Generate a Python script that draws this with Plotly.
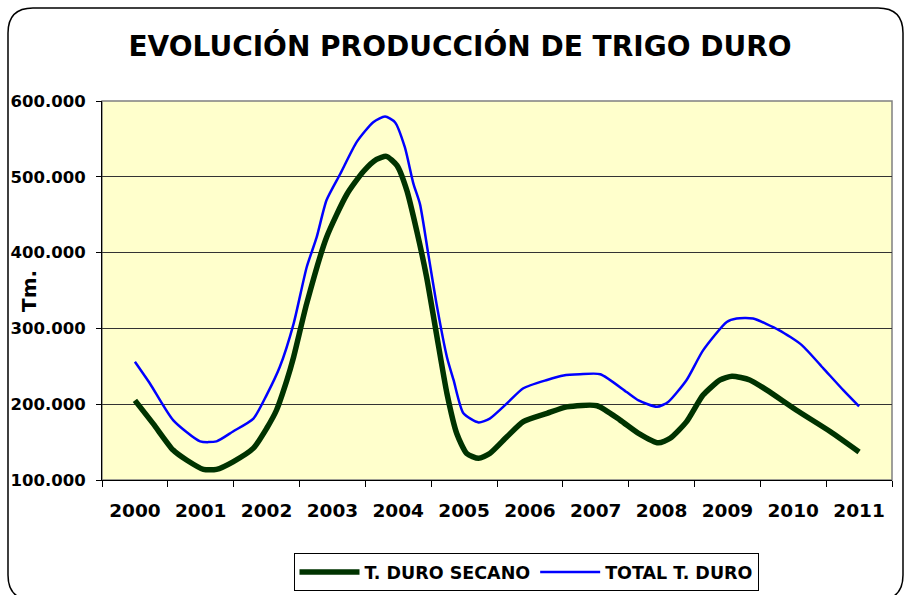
import plotly.graph_objects as go

categories = ["2000", "2001", "2002", "2003", "2004", "2005",
              "2006", "2007", "2008", "2009", "2010", "2011"]
years = [2000, 2001, 2002, 2003, 2004, 2005, 2006, 2007, 2008, 2009, 2010, 2011]

secano_x = [2000.00, 2000.28, 2000.58, 2000.79, 2001.04, 2001.24, 2001.49, 2001.80,
            2002.00, 2002.15, 2002.31, 2002.41, 2002.61, 2002.91, 2003.22, 2003.47,
            2003.67, 2003.82, 2003.98, 2004.13, 2004.28, 2004.43, 2004.58, 2004.74,
            2004.89, 2005.04, 2005.22, 2005.39, 2005.65, 2005.90, 2006.26, 2006.56,
            2007.02, 2007.37, 2007.65, 2007.95, 2008.13, 2008.38, 2008.63, 2008.89,
            2009.07, 2009.34, 2009.60, 2010.05, 2010.56, 2011.00]
secano_y = [205000, 174000, 139500, 126000, 114000, 114000, 124000, 142000,
            168000, 192000, 232000, 262000, 333000, 420000, 477000, 507000,
            523000, 527000, 515000, 482000, 429000, 368000, 293000, 214000,
            161000, 135000, 128600, 135000, 157000, 177000, 188000, 196500,
            198000, 179000, 161500, 149000, 155000, 177000, 212000, 232000,
            237000, 232000, 218500, 192000, 164000, 137000]

total_x = [2000.00, 2000.23, 2000.58, 2000.99, 2001.24, 2001.49, 2001.80, 2002.00,
           2002.20, 2002.41, 2002.61, 2002.76, 2002.91, 2003.12, 2003.37, 2003.62,
           2003.80, 2003.95, 2004.10, 2004.23, 2004.33, 2004.46, 2004.58, 2004.74,
           2004.84, 2004.99, 2005.22, 2005.39, 2005.65, 2005.90, 2006.26, 2006.51,
           2006.76, 2007.07, 2007.47, 2007.65, 2007.93, 2008.10, 2008.38, 2008.63,
           2008.99, 2009.14, 2009.39, 2009.79, 2010.13, 2010.46, 2010.76, 2011.00]
total_y = [256000, 227000, 179000, 151000, 151000, 164000, 181000, 212000,
           249000, 306000, 381000, 420000, 469000, 504000, 546000, 572000,
           579500, 572000, 539000, 491000, 464000, 396000, 333000, 262000,
           232000, 188000, 176000, 181000, 201000, 221000, 232000, 238000,
           239600, 239600, 216000, 205000, 196500, 203000, 232000, 271000,
           308500, 313000, 313000, 297500, 278000, 247000, 218500, 197000]

y_ticks = [100000, 200000, 300000, 400000, 500000, 600000]
y_ticktext = ["100.000", "200.000", "300.000", "400.000", "500.000", "600.000"]

FONT = "DejaVu Sans, Arial, sans-serif"
W, H = 905, 595
L, R, T, B = 102, 13, 101, 115
pw, ph = W - L - R, H - T - B

fig = go.Figure()
fig.add_trace(go.Scatter(x=secano_x, y=secano_y, mode="lines", name="<b>T. DURO SECANO</b>",
                         line=dict(color="#003300", width=5.5, shape="spline", smoothing=0.6)))
fig.add_trace(go.Scatter(x=total_x, y=total_y, mode="lines", name="<b>TOTAL T. DURO</b>",
                         line=dict(color="#0000FF", width=2.5, shape="spline", smoothing=0.6)))

def px2paper(px, py):
    return (px - L) / pw, (H - B - py) / ph

def P(px, py):
    a, b = px2paper(px, py)
    return f"{a:.5f},{b:.5f}"

# rounded outer frame
x0, y0 = 8, 8
x1, y1 = 903, 600
r = 25
path = (f"M {P(x0 + r, y0)} L {P(x1 - r, y0)} Q {P(x1, y0)} {P(x1, y0 + r)} "
        f"L {P(x1, y1 - r)} Q {P(x1, y1)} {P(x1 - r, y1)} "
        f"L {P(x0 + r, y1)} Q {P(x0, y1)} {P(x0, y1 - r)} "
        f"L {P(x0, y0 + r)} Q {P(x0, y0)} {P(x0 + r, y0)} Z")
fig.add_shape(type="path", path=path, xref="paper", yref="paper",
              line=dict(color="black", width=1.5), layer="below")
fig.add_shape(type="rect", xref="x domain", yref="y domain", x0=0, x1=1, y0=0, y1=1,
              line=dict(color="#808080", width=1.5), layer="below")

tx, ty = px2paper(29, 291)
fig.add_annotation(text="<b>Tm.</b>", x=tx, y=ty, xref="paper", yref="paper",
                   textangle=-90, showarrow=False, font=dict(size=20, color="black", family=FONT),
                   xanchor="center", yanchor="middle")

lx, ly = px2paper(526, 553)

fig.update_layout(
    template="none",
    width=W, height=H,
    margin=dict(l=L, r=R, t=T, b=B, autoexpand=False),
    paper_bgcolor="white",
    plot_bgcolor="#FFFFCC",
    font=dict(family=FONT, color="black"),
    title=dict(text="<b>EVOLUCIÓN PRODUCCIÓN DE TRIGO DURO</b>", x=460 / W, xref="container",
               xanchor="center", y=1 - 46 / H, yref="container", yanchor="middle",
               font=dict(size=28, family=FONT, color="black")),
    xaxis=dict(range=[1999.5, 2011.5], tickmode="array", tickvals=years,
               ticktext=[f"<b>{c}</b>" for c in categories], ticks="",
               ticklabelstandoff=14, automargin=False,
               tickfont=dict(size=18.5, family=FONT, color="black"),
               showgrid=False, zeroline=False, showline=True, linecolor="black", linewidth=1,
               minor=dict(tick0=1999.5, dtick=1, ticks="outside", ticklen=6,
                          tickcolor="black", tickwidth=1, showgrid=False)),
    yaxis=dict(range=[100000, 600000], tickmode="array", tickvals=y_ticks,
               ticktext=[f"<b>{t}</b>" for t in y_ticktext], ticks="outside", ticklen=5,
               tickcolor="black", ticklabelstandoff=7, automargin=False,
               tickfont=dict(size=16.5, family=FONT, color="black"),
               showgrid=True, gridcolor="#333333", gridwidth=1, zeroline=False,
               showline=True, linecolor="black", linewidth=1),
    legend=dict(orientation="h", x=lx, y=ly, xanchor="center", yanchor="top",
                bordercolor="black", borderwidth=1, bgcolor="white",
                font=dict(size=17.5, family=FONT, color="black"),
                itemwidth=60, tracegroupgap=0),
    showlegend=True,
)

fig.write_html("out.html", post_script="document.body.style.margin='0px';",
               config={"displayModeBar": False})
